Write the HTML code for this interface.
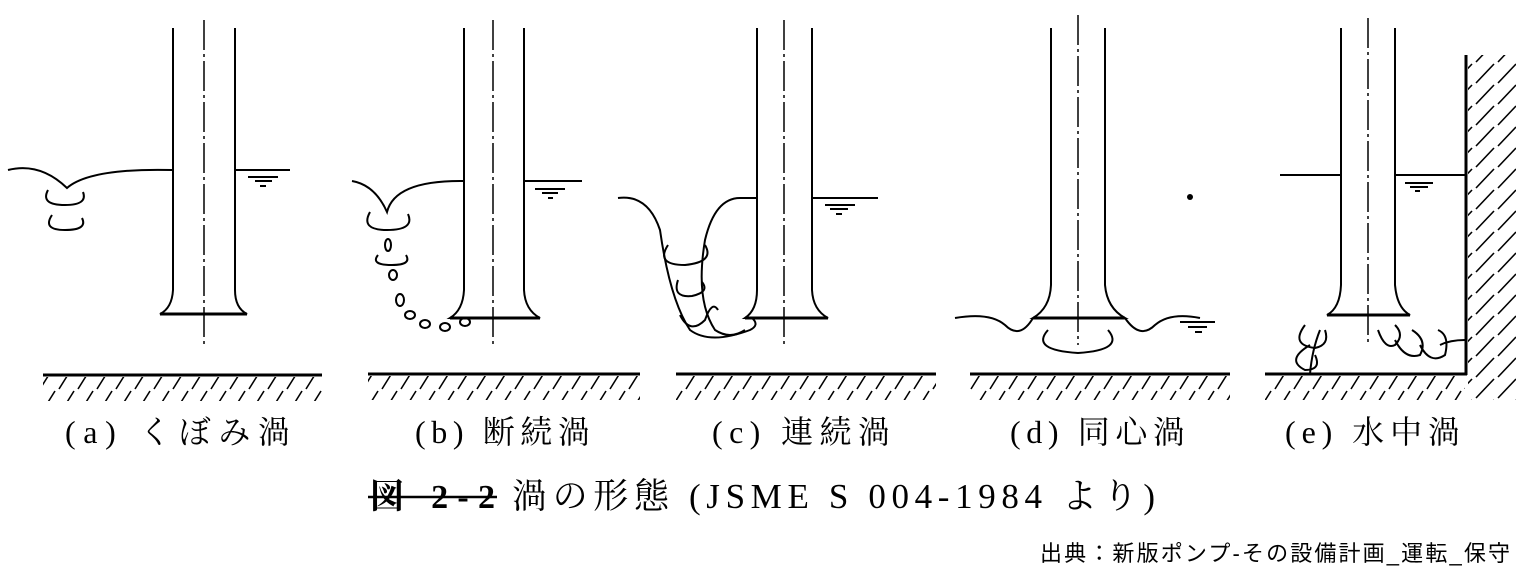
<!DOCTYPE html>
<html><head><meta charset="utf-8"><style>
body{margin:0;background:#fff;width:1526px;height:574px;overflow:hidden}
svg{display:block}
</style></head><body>
<svg width="1526" height="574" viewBox="0 0 1526 574" xmlns="http://www.w3.org/2000/svg">
<defs>
<pattern id="h" width="19" height="26" patternUnits="userSpaceOnUse">
<line x1="17" y1="1" x2="2" y2="25" stroke="#000" stroke-width="1.6"/>
</pattern>
<pattern id="hv" width="22" height="21" patternUnits="userSpaceOnUse">
<line x1="20" y1="1" x2="2" y2="20" stroke="#000" stroke-width="1.6"/>
</pattern>
</defs>
<g fill="none" stroke="#000" stroke-width="2">
<rect x="43" y="377" width="279" height="24" fill="url(#h)" stroke="none"/>
<line x1="43" y1="375" x2="322" y2="375" stroke-width="3"/>
<rect x="368" y="376" width="272" height="24" fill="url(#h)" stroke="none"/>
<line x1="368" y1="374" x2="640" y2="374" stroke-width="3"/>
<rect x="676" y="376" width="260" height="24" fill="url(#h)" stroke="none"/>
<line x1="676" y1="374" x2="936" y2="374" stroke-width="3"/>
<rect x="970" y="376" width="260" height="24" fill="url(#h)" stroke="none"/>
<line x1="970" y1="374" x2="1230" y2="374" stroke-width="3"/>
<rect x="1265" y="376" width="200" height="24" fill="url(#h)" stroke="none"/>
<line x1="1265" y1="374" x2="1467" y2="374" stroke-width="3"/>
<rect x="1468" y="55" width="48" height="345" fill="url(#hv)" stroke="none"/>
<line x1="1466" y1="55" x2="1466" y2="375" stroke-width="3"/>

<path d="M173 28 V290 Q172 308 160 314 H247 Q235 308 235 290 V28"/>
<line x1="160" y1="314" x2="247" y2="314" stroke-width="3"/>
<line x1="204" y1="20" x2="204" y2="345" stroke-dasharray="30 4 3 4" stroke-width="1.5"/>
<path d="M8 170 Q40 162 67 188 Q90 168 172 170"/>
<path d="M235 170 H290 M248 177 H278 M255 181 H272 M260 186 H266"/>
<path d="M48 190 Q40 205 65 205 Q88 205 83 192"/>
<path d="M52 215 Q42 230 65 230 Q88 230 82 218"/>

<path d="M464 28 V290 Q463 310 450 318 H540 Q525 310 524 290 V28"/>
<line x1="450" y1="318" x2="540" y2="318" stroke-width="3"/>
<line x1="493" y1="20" x2="493" y2="345" stroke-dasharray="30 4 3 4" stroke-width="1.5"/>
<path d="M352 181 Q375 185 387 212 Q395 180 464 181"/>
<path d="M524 181 H582 M535 189 H565 M542 193 H558 M548 198 H553"/>
<path d="M370 212 Q360 230 387 230 Q415 230 408 214"/>
<path d="M378 255 Q370 265 392 265 Q412 265 406 255"/>
<ellipse cx="388" cy="245" rx="3" ry="6"/>
<ellipse cx="393" cy="275" rx="4" ry="5"/>
<ellipse cx="400" cy="300" rx="4" ry="6"/>
<ellipse cx="410" cy="315" rx="5" ry="4"/>
<ellipse cx="425" cy="324" rx="5" ry="4"/>
<ellipse cx="445" cy="327" rx="5" ry="4"/>
<ellipse cx="465" cy="322" rx="5" ry="4"/>

<path d="M757 28 V290 Q757 310 745 318 H828 Q813 310 812 290 V28"/>
<line x1="745" y1="318" x2="828" y2="318" stroke-width="3"/>
<line x1="784" y1="20" x2="784" y2="345" stroke-dasharray="30 4 3 4" stroke-width="1.5"/>
<path d="M618 198 Q648 194 660 230 Q670 300 690 330 Q710 345 750 330 Q760 325 752 318"/>
<path d="M757 198 H740 Q715 198 705 240 Q695 300 715 330 Q730 340 745 330"/>
<path d="M812 198 H878 M825 205 H855 M830 209 H848 M836 214 H842"/>
<path d="M668 245 Q655 265 685 265 Q715 262 705 245"/>
<path d="M678 280 Q672 298 692 296 Q710 292 702 282"/>
<path d="M680 315 Q690 335 705 320 Q712 300 718 310"/>

<path d="M1051 28 V285 Q1050 308 1033 318 H1125 Q1107 308 1105 285 V28"/>
<line x1="1033" y1="318" x2="1125" y2="318" stroke-width="3"/>
<line x1="1078" y1="15" x2="1078" y2="345" stroke-dasharray="30 4 3 4" stroke-width="1.5"/>
<path d="M955 318 Q990 312 1005 325 Q1020 340 1033 318"/>
<path d="M1125 318 Q1140 340 1155 325 Q1170 312 1200 318 M1180 322 H1215 M1188 327 H1207 M1195 332 H1202"/>
<path d="M1048 330 Q1030 350 1078 353 Q1125 350 1108 330"/>
<circle cx="1190" cy="197" r="3" fill="#000" stroke="none"/>

<path d="M1341 28 V285 Q1340 308 1327 315 H1410 Q1397 308 1395 285 V28"/>
<line x1="1327" y1="315" x2="1410" y2="315" stroke-width="3"/>
<line x1="1368" y1="18" x2="1368" y2="345" stroke-dasharray="30 4 3 4" stroke-width="1.5"/>
<path d="M1280 175 H1341 M1395 175 H1466 M1405 183 H1433 M1410 187 H1428 M1415 191 H1420"/>
<path d="M1305 325 Q1290 345 1315 348 Q1330 345 1325 330 M1310 345 Q1285 360 1305 370 Q1322 370 1315 355 M1320 330 Q1312 350 1310 374"/>
<path d="M1378 330 Q1385 350 1395 345 Q1405 335 1395 325 M1395 340 Q1405 360 1420 355 Q1428 340 1412 330 M1420 345 Q1430 365 1445 355 Q1450 335 1438 330 M1440 345 Q1450 340 1465 340"/>
</g>
<g font-family="'Liberation Serif','Noto Serif CJK SC',serif" font-size="32" fill="#000">
<text x="65" y="443" textLength="225" lengthAdjust="spacing">(a) くぼみ渦</text>
<text x="415" y="443" textLength="175" lengthAdjust="spacing">(b) 断続渦</text>
<text x="712" y="443" textLength="178" lengthAdjust="spacing">(c) 連続渦</text>
<text x="1010" y="443" textLength="175" lengthAdjust="spacing">(d) 同心渦</text>
<text x="1285" y="443" textLength="175" lengthAdjust="spacing">(e) 水中渦</text>
<text x="370" y="508" font-size="34" font-weight="bold" textLength="125" lengthAdjust="spacing">図 2-2</text>
<line x1="368" y1="497" x2="497" y2="497" stroke="#000" stroke-width="2.5"/>
<text x="512" y="508" font-size="35" textLength="643" lengthAdjust="spacing">渦の形態 (JSME S 004-1984 より)</text>
</g>
<text x="1040" y="561" textLength="470" lengthAdjust="spacing" font-family="'Liberation Sans','Noto Sans CJK JP',sans-serif" font-size="22">出典：新版ポンプ-その設備計画_運転_保守</text>
</svg>
</body></html>
